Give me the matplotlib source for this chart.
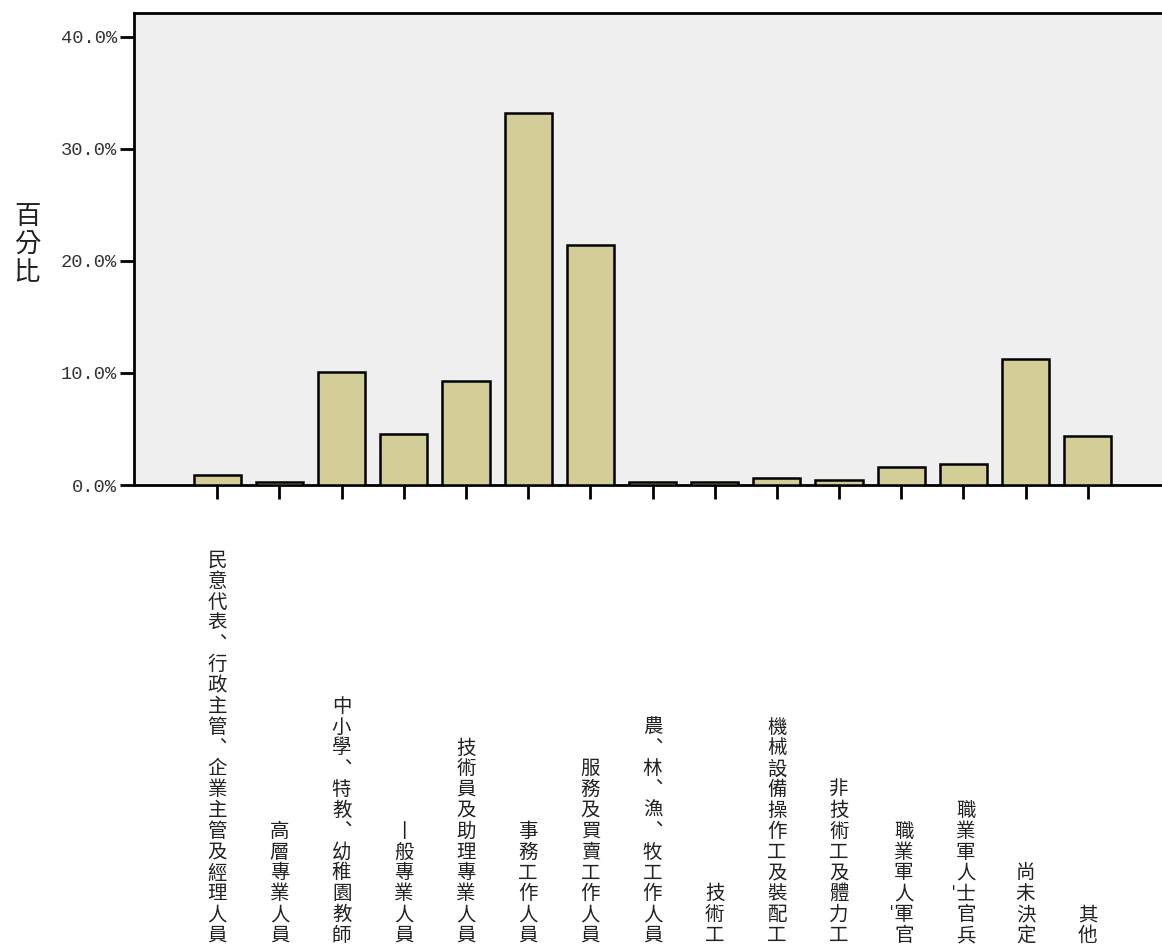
import matplotlib
matplotlib.use('Agg')
import matplotlib.pyplot as plt
import matplotlib.transforms as mtransforms

# occupation categories (vertical labels) and percentages
categories = [
    '民意代表︑行政主管︑企業主管及經理人員',
    '高層專業人員',
    '中小學︑特教︑幼稚園教師',
    '丨般專業人員',
    '技術員及助理專業人員',
    '事務工作人員',
    '服務及買賣工作人員',
    '農︑林︑漁︑牧工作人員',
    '技術工',
    '機械設備操作工及裝配工',
    '非技術工及體力工',
    '職業軍人ˈ軍官',
    '職業軍人ˈ士官兵',
    '尚未決定',
    '其他',
]
percent = [0.9, 0.27, 10.1, 4.55, 9.3, 33.2, 21.4, 0.27, 0.27, 0.65, 0.42, 1.63, 1.88, 11.2, 4.4]
y_ticks = [0, 10, 20, 30, 40]
y_tick_labels = ['0.0%', '10.0%', '20.0%', '30.0%', '40.0%']

CJK = ['Noto Sans CJK TC', 'DejaVu Sans']
W, H = 1162, 949


def stack(label):
    # one character per line; a hyphen mark sticks to the character after it
    lines = []
    carry = ''
    for ch in label:
        if ch == 'ˈ':
            carry = ch
            continue
        lines.append(carry + ch)
        carry = ''
    return '\n'.join(lines)


fig = plt.figure(figsize=(W / 100, H / 100), dpi=100)
ax = fig.add_axes([134 / W, 1 - 485 / H, 1037 / W, 472 / H])
ax.set_facecolor('#efefef')

x = list(range(len(categories)))
ax.bar(x, percent, width=0.76, color='#d3ce98', edgecolor='black', linewidth=1.8, zorder=3)

ax.set_xlim(-1.34, 15.34)
ax.set_ylim(0, 42.1)
ax.set_yticks(y_ticks)
ax.set_yticklabels(y_tick_labels, family='Liberation Mono', fontsize=13.5, color='#333333')
ax.set_xticks(x)
ax.set_xticklabels([])
ax.tick_params(axis='both', direction='out', length=10, width=2, color='black')
ax.tick_params(axis='y', pad=2)

for side in ['left', 'top', 'bottom']:
    ax.spines[side].set_linewidth(2)
    ax.spines[side].set_color('black')
ax.spines['right'].set_visible(False)

# y axis title, stacked vertically
fig.text(27 / W, 1 - 245 / H, '百\n分\n比', family=CJK, fontsize=19,
         ha='center', va='center', linespacing=1.05, color='#222222')

# category labels stacked vertically, bottom aligned
trans = mtransforms.blended_transform_factory(ax.transData, fig.transFigure)
for xi, label in zip(x, categories):
    ax.text(xi, 3 / H, stack(label), transform=trans, family=CJK, fontsize=14,
            ha='center', va='bottom', linespacing=0.99, color='#222222',
            multialignment='right', clip_on=False)

fig.savefig('out.png', dpi=100)
